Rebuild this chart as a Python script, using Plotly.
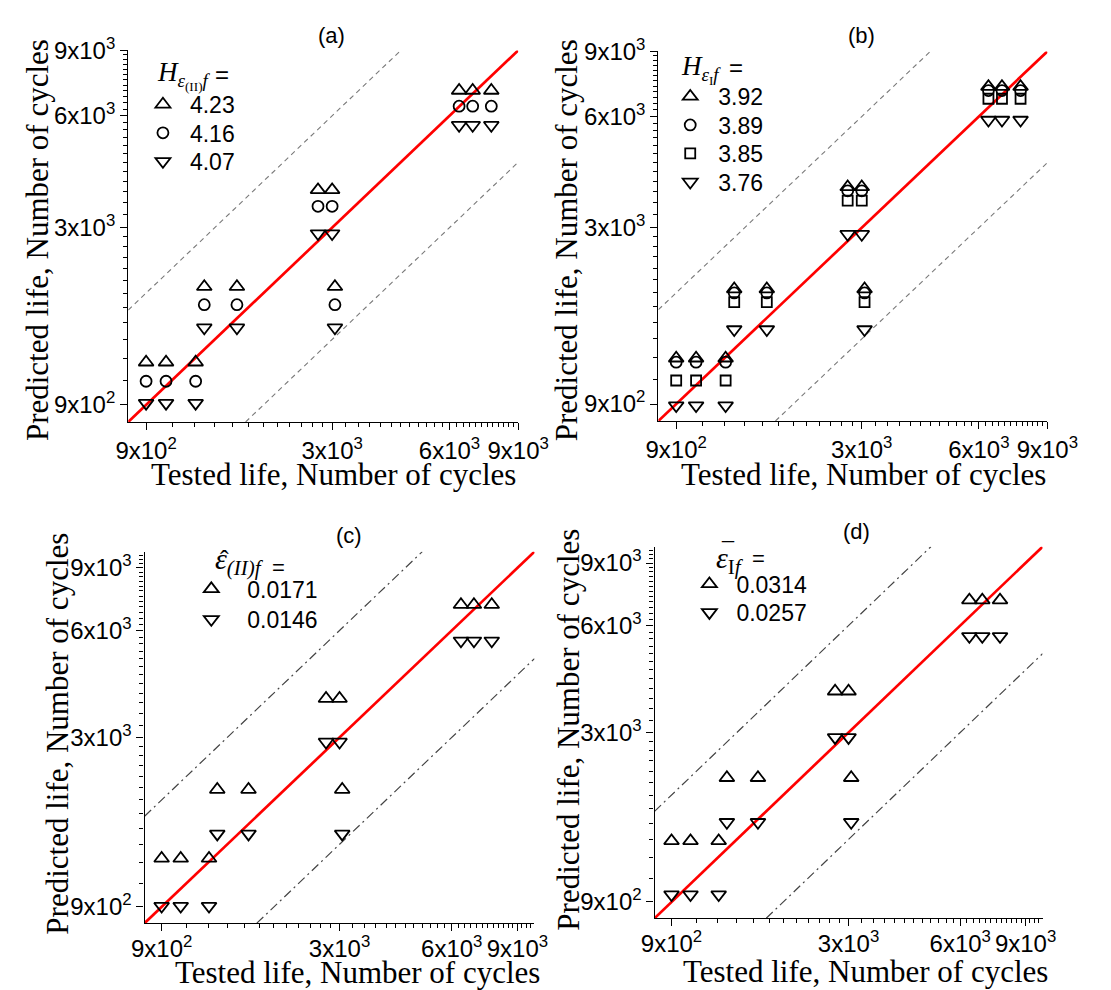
import math
import plotly.graph_objects as go

W, H = 1111, 990

# ---------------- data ----------------
tested = [1000, 1125, 1340, 1410, 1710, 2760, 3000, 3050, 6350, 6880, 7680]
# load-level group of each specimen (0 = lowest life ... 3 = highest)
group = [0, 0, 0, 1, 1, 2, 2, 1, 3, 3, 3]

# predicted life for each load-level group
a_423 = [1303, 2081, 3792, 7020]
a_416 = [1158, 1861, 3425, 6369]
a_407 = [1011, 1614, 2893, 5661]

b_392 = [1330, 2047, 3868, 7227]
b_389 = [1298, 1998, 3776, 7051]
b_385 = [1158, 1887, 3553, 6700]
b_376 = [990, 1591, 2881, 5869]

c_0171 = [1369, 2140, 3860, 7090]
c_0146 = [1005, 1605, 2913, 5612]

d_0314 = [1486, 2237, 3919, 7074]
d_0257 = [1049, 1677, 2906, 5595]

major_ticks = [1000, 3000, 6000, 9000]
major_labels = ["9x10<sup>2</sup>", "3x10<sup>3</sup>", "6x10<sup>3</sup>", "9x10<sup>3</sup>"]
range_ab = [900, 9000]
range_cd = [900, 10000]
band_factor = 2

# ---------------- helpers ----------------
def px(x):
    return x / W

def py(y):
    return 1 - y / H

def minor_ticks(hi):
    vals = []
    edges = [1000, 3000, 6000, 9000, 12000]
    for lo_e, hi_e in zip(edges[:-1], edges[1:]):
        step = (hi_e - lo_e) / 12
        for k in range(1, 12):
            v = lo_e + k * step
            if v < hi:
                vals.append(v)
    return vals

SANS = "Liberation Sans, Arial"
SERIF = "Liberation Serif, Times New Roman"
TICKFONT = dict(family=SANS, size=24, color="black")

def axis(dom, rng, anchor, standoff=0):
    return dict(
        type="log", domain=dom, range=[math.log10(rng[0]), math.log10(rng[1])],
        anchor=anchor, tickmode="array", tickvals=major_ticks, ticktext=major_labels,
        ticks="outside", ticklen=7, tickwidth=1.2, tickcolor="black",
        showline=True, linecolor="black", linewidth=1.3, mirror=False,
        showgrid=False, zeroline=False, tickfont=TICKFONT, fixedrange=True,
        ticklabelstandoff=standoff,
        minor=dict(tickmode="array", tickvals=minor_ticks(rng[1]), ticks="outside",
                   ticklen=4, tickwidth=1, tickcolor="black", showgrid=False),
    )

# panel geometry in pixels: (left, right, top, bottom)
panels = {
    "a": (120, 526, 34, 412),
    "b": (672, 1077, 35, 411),
    "c": (137, 543, 544, 922),
    "d": (668, 1072, 539, 917),
}

fig = go.Figure()
layout = dict(width=W, height=H, margin=dict(l=0, r=0, t=0, b=0),
              paper_bgcolor="white", plot_bgcolor="white", showlegend=True)

series = {
    "a": [("4.23", a_423, "triangle-up-open", 13), ("4.16", a_416, "circle-open", 11),
          ("4.07", a_407, "triangle-down-open", 13)],
    "b": [("3.92", b_392, "triangle-up-open", 13), ("3.89", b_389, "circle-open", 11),
          ("3.85", b_385, "square-open", 10), ("3.76", b_376, "triangle-down-open", 13)],
    "c": [("0.0171", c_0171, "triangle-up-open", 13), ("0.0146", c_0146, "triangle-down-open", 13)],
    "d": [("0.0314", d_0314, "triangle-up-open", 13), ("0.0257", d_0257, "triangle-down-open", 13)],
}
ranges = {"a": range_ab, "b": range_ab, "c": range_cd, "d": range_cd}
xstandoff = {"a": 0, "b": 0, "c": -3, "d": -3}
band_style = {
    "a": dict(color="#7a7a7a", width=1.1, dash="5px,4px"),
    "b": dict(color="#7a7a7a", width=1.1, dash="5px,4px"),
    "c": dict(color="#444444", width=1.2, dash="9px,4px,2px,4px"),
    "d": dict(color="#444444", width=1.2, dash="9px,4px,2px,4px"),
}
# legend entry positions: marker centre x, row centre y values
legend_x = {"a": 155, "b": 704, "c": 205, "d": 724}
legend_rows = {"a": [101, 130, 159], "b": [93, 122, 151, 180], "c": [594, 625], "d": [589, 618]}
legend_gap = {"a": 44, "b": 46, "c": 62, "d": 44}

leg_count = 0
for i, key in enumerate(["a", "b", "c", "d"]):
    n = "" if i == 0 else str(i + 1)
    xa, ya = "x" + n, "y" + n
    l, r, t, b = panels[key]
    layout["xaxis" + n] = axis([px(l), px(r)], ranges[key], ya, xstandoff[key])
    layout["yaxis" + n] = axis([py(b), py(t)], ranges[key], xa)
    lo, hi = ranges[key]
    # 1:1 line
    fig.add_trace(go.Scatter(x=[lo, hi], y=[lo, hi], mode="lines", xaxis=xa, yaxis=ya,
                             line=dict(color="#ff0000", width=2.7), showlegend=False,
                             hoverinfo="skip"))
    # factor-of-two scatter band
    fig.add_trace(go.Scatter(x=[lo, hi / band_factor], y=[lo * band_factor, hi], mode="lines",
                             xaxis=xa, yaxis=ya, line=band_style[key], showlegend=False,
                             hoverinfo="skip"))
    fig.add_trace(go.Scatter(x=[lo * band_factor, hi], y=[lo, hi / band_factor], mode="lines",
                             xaxis=xa, yaxis=ya, line=band_style[key], showlegend=False,
                             hoverinfo="skip"))
    gap = legend_gap[key]
    for j, (name, vals, sym, size) in enumerate(series[key]):
        leg_count += 1
        leg = "legend" if leg_count == 1 else "legend%d" % leg_count
        fig.add_trace(go.Scatter(
            x=tested, y=[vals[g] for g in group], mode="markers", name=name,
            xaxis=xa, yaxis=ya, legend=leg,
            marker=dict(symbol=sym, size=size, color="black", line=dict(width=1.8, color="black")),
        ))
        layout[leg] = dict(
            x=px(legend_x[key] - (gap // 2 + 5)), y=py(legend_rows[key][j] - 34),
            xanchor="left", yanchor="top",
            bgcolor="rgba(0,0,0,0)", borderwidth=0, itemwidth=gap,
            font=dict(family=SANS, size=23, color="black"),
            itemclick=False, itemdoubleclick=False,
        )

ann = []
def add_text(text, x, y, size, family=SANS, angle=0, xanchor="center", yanchor="middle"):
    ann.append(dict(text=text, x=px(x), y=py(y), xref="paper", yref="paper",
                    showarrow=False, textangle=angle, xanchor=xanchor, yanchor=yanchor,
                    font=dict(family=family, size=size, color="black")))

# panel labels
add_text("(a)", 332, 19, 22)
add_text("(b)", 884, 19, 22)
add_text("(c)", 350, 528, 22)
add_text("(d)", 878, 523, 22)
# axis titles
for (xx, yy) in [(334, 466), (886, 465), (359, 972), (888, 971)]:
    add_text("Tested life, Number of cycles", xx, yy, 31, SERIF)
for (xx, yy) in [(25, 227), (576, 227), (46, 729), (578, 725)]:
    add_text("Predicted life, Number of cycles", xx, yy, 31, SERIF, angle=-90)

# legend headings
add_text("<i>H</i><sub><i>ε</i><sub>(II)</sub><i>f</i></sub>", 148, 60, 27, SERIF, xanchor="left")
add_text("=", 218, 59, 24)
add_text("<i>H</i><sub><i>ε</i><sub>I</sub><i>f</i></sub>", 693, 53, 27, SERIF, xanchor="left")
add_text("=", 753, 51, 24)
add_text("<i>ε</i><sub><i>(II)f</i></sub>", 208, 553, 30, SERIF, xanchor="left")
add_text("ˆ", 220, 552, 26, SERIF)
add_text("=", 276, 560, 22)
add_text("<i>ε</i><sub>I<i>f</i></sub>", 730, 552, 30, SERIF, xanchor="left")
add_text("¯", 745, 543, 24, SERIF)
add_text("=", 776, 551, 22)

layout["annotations"] = ann
fig.update_layout(**layout)
fig.write_html("out.html", config={"displayModeBar": False},
               post_script="document.body.style.margin='0';document.body.style.overflow='hidden';")
